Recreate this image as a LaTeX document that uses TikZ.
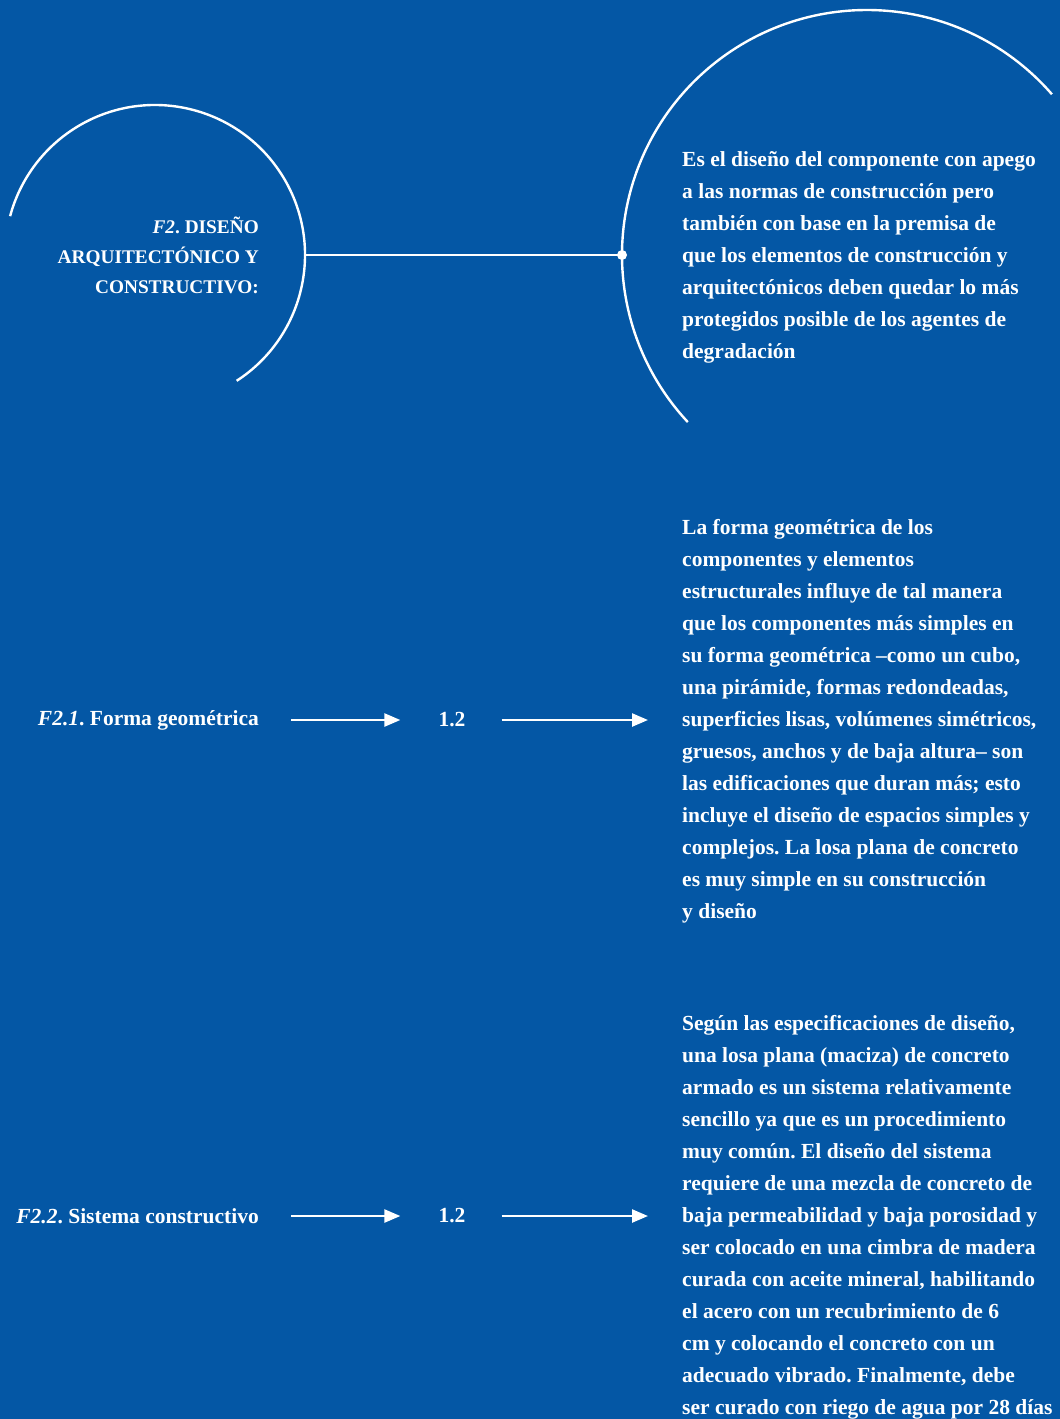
\documentclass[tikz,border=0pt]{standalone}
\usepackage{fontspec}
\setmainfont{Liberation Serif}
\usetikzlibrary{arrows.meta,positioning}
\definecolor{bgblue}{HTML}{0457A5}
\frenchspacing

\begin{document}
\begin{tikzpicture}[
    x=1pt, y=1pt,
    ring/.style={
        draw=white,
        line width=2.4pt
    },
    heading/.style={
        text=white,
        align=right,
        anchor=east,
        inner sep=0pt,
        font=\bfseries\fontsize{19.3}{30}\selectfont
    },
    factor/.style={
        text=white,
        anchor=east,
        inner sep=0pt,
        font=\bfseries\fontsize{21.5}{32}\selectfont
    },
    score/.style={
        text=white,
        inner ysep=0pt,
        inner xsep=4pt,
        font=\bfseries\fontsize{21.5}{32}\selectfont
    },
    desc/.style={
        text=white,
        align=left,
        anchor=west,
        inner sep=0pt,
        font=\bfseries\fontsize{21.5}{32}\selectfont
    },
    arrow/.style={
        -{Triangle[length=16pt,width=13pt]},
        draw=white,
        line width=2.4pt,
        shorten <=32pt,
        shorten >=34pt
    }
]

% Background and frame
\fill[bgblue] (0,0) rectangle (1060,-1419);
\useasboundingbox (0,0) rectangle (1060,-1419);

% Circles
\draw[ring] (155,-255) ++(-57:150) arc[start angle=-57, end angle=165, radius=150];
\draw[ring] (867,-255) ++(41:245) arc[start angle=41, end angle=223, radius=245];

% Heading and its description
\node[heading] (title) at (259,-255)
{\textit{F2}. DISEÑO\\ARQUITECTÓNICO Y\\CONSTRUCTIVO:};

\node[desc] (titledesc) at (682,-257)
{Es el diseño del componente con apego\\
a las normas de construcción pero\\
también con base en la premisa de\\
que los elementos de construcción y\\
arquitectónicos deben quedar lo más\\
protegidos posible de los agentes de\\
degradación};

\coordinate (lefthub) at (305,-255);
\coordinate (righthub) at (622,-255);
\draw[ring] (lefthub) -- (righthub);
\fill[white] (righthub) circle (5pt);

% Forma geometrica
\node[factor] (form) at (259,-720) {\textit{F2.1}. Forma geométrica};
\node[score] (formval) at (452,-720) {1.2};
\node[desc] (formdesc) at (682,-721)
{La forma geométrica de los\\
componentes y elementos\\
estructurales influye de tal manera\\
que los componentes más simples en\\
su forma geométrica –como un cubo,\\
una pirámide, formas redondeadas,\\
superficies lisas, volúmenes simétricos,\\
gruesos, anchos y de baja altura– son\\
las edificaciones que duran más; esto\\
incluye el diseño de espacios simples y\\
complejos. La losa plana de concreto\\
es muy simple en su construcción\\
y diseño};

% Sistema constructivo
\node[factor] (sys) at (259,-1216) {\textit{F2.2}. Sistema constructivo};
\node[score] (sysval) at (452,-1216) {1.2};
\node[desc] (sysdesc) at (682,-1217)
{Según las especificaciones de diseño,\\
una losa plana (maciza) de concreto\\
armado es un sistema relativamente\\
sencillo ya que es un procedimiento\\
muy común. El diseño del sistema\\
requiere de una mezcla de concreto de\\
baja permeabilidad y baja porosidad y\\
ser colocado en una cimbra de madera\\
curada con aceite mineral, habilitando\\
el acero con un recubrimiento de 6\\
cm y colocando el concreto con un\\
adecuado vibrado. Finalmente, debe\\
ser curado con riego de agua por 28 días};

% Connections
\draw[arrow] (formval.west -| form.east) -- (formval.west);
\draw[arrow] (formval.east) -- (formval.east -| formdesc.west);
\draw[arrow] (sysval.west -| sys.east) -- (sysval.west);
\draw[arrow] (sysval.east) -- (sysval.east -| sysdesc.west);

\end{tikzpicture}
\end{document}
